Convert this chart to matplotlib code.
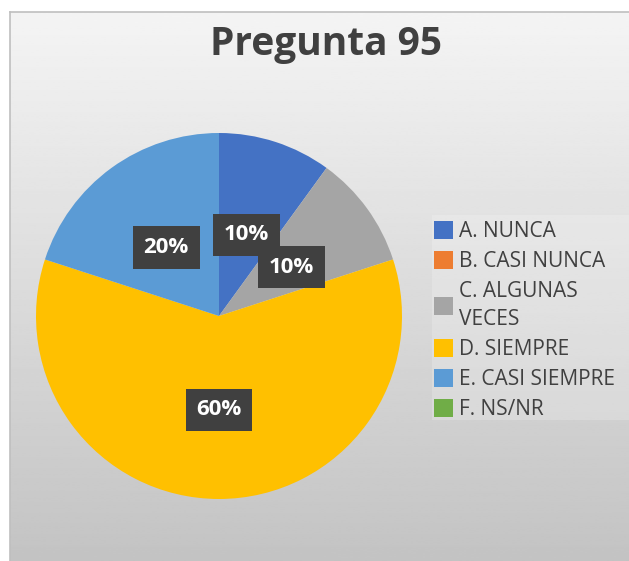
import matplotlib.pyplot as plt
import matplotlib.patches as mpatches
import numpy as np

## ## data
categorias = ["A. NUNCA", "B. CASI NUNCA", "C. ALGUNAS\nVECES", "D. SIEMPRE",
              "E. CASI SIEMPRE", "F. NS/NR"]
porcentajes = [10, 0, 10, 60, 20, 0]
colores = ["#4472C4", "#ED7D31", "#A5A5A5", "#FFC000", "#5B9BD5", "#70AD47"]
titulo = "Pregunta 95"

plt.rcParams['font.family'] = ['Open Sans', 'DejaVu Sans']

W, H = 629, 561
fig = plt.figure(figsize=(W / 100, H / 100), dpi=100)
fig.patch.set_facecolor("white")

## ## background of the chart area: grey gradient, light on top
bg = fig.add_axes([10 / W, 0, 1 - 10 / W, 1 - 12 / H])
grad = np.linspace(0.957, 0.765, 256).reshape(-1, 1)
bg.imshow(grad, cmap="gray", vmin=0, vmax=1, aspect="auto",
          extent=[0, 1, 0, 1], origin="upper")
bg.set_xlim(0, 1)
bg.set_ylim(0, 1)
for s in ["right", "bottom"]:
    bg.spines[s].set_visible(False)
for s in ["left", "top"]:
    bg.spines[s].set_color("#bfbfbf")
    bg.spines[s].set_linewidth(1.2)
bg.set_xticks([])
bg.set_yticks([])

## ## title
fig.text(326 / W, 1 - 44 / H, titulo, ha="center", va="center",
         fontsize=28, fontweight="bold", color="#404040")

## ## pie
R = 183
cx, cy = 219, 316
ax = fig.add_axes([(cx - R) / W, (H - cy - R) / H, 2 * R / W, 2 * R / H])
ax.set_facecolor("none")


def etiqueta(p):
    if p < 0.5:
        return ""
    return "{:.0f}%".format(p)


wedges, texts, autotexts = ax.pie(porcentajes, colors=colores, startangle=90,
                                  counterclock=False, autopct=etiqueta,
                                  pctdistance=0.49, radius=1.0,
                                  wedgeprops=dict(linewidth=0))
for t in autotexts:
    t.set_color("white")
    t.set_fontsize(16)
    t.set_fontweight("bold")
    ## excel puts the label boxes a touch lower
    x, y = t.get_position()
    t.set_position((x, y - 0.022))
    if t.get_text():
        t.set_bbox(dict(boxstyle="square,pad=0.48", facecolor="#404040",
                        edgecolor="none"))
ax.set_xlim(-1, 1)
ax.set_ylim(-1, 1)
ax.set_aspect("equal")

## ## legend
fig.patches.append(mpatches.Rectangle((432 / W, 1 - 420 / H), (W - 432) / W,
                                      (420 - 215) / H, transform=fig.transFigure,
                                      facecolor="white", alpha=0.2,
                                      edgecolor="none", zorder=1))
handles = [mpatches.Patch(facecolor=c, edgecolor="none") for c in colores]
leg = fig.legend(handles, categorias, loc="upper left",
                 bbox_to_anchor=(417 / W, 1 - 204 / H), frameon=False,
                 fontsize=15, handlelength=0.95, handleheight=0.95,
                 handletextpad=0.25, labelspacing=0.43, borderpad=0.3)
for t in leg.get_texts():
    t.set_color("#404040")
    t.set_linespacing(1.45)

fig.savefig("out.png", dpi=100)
